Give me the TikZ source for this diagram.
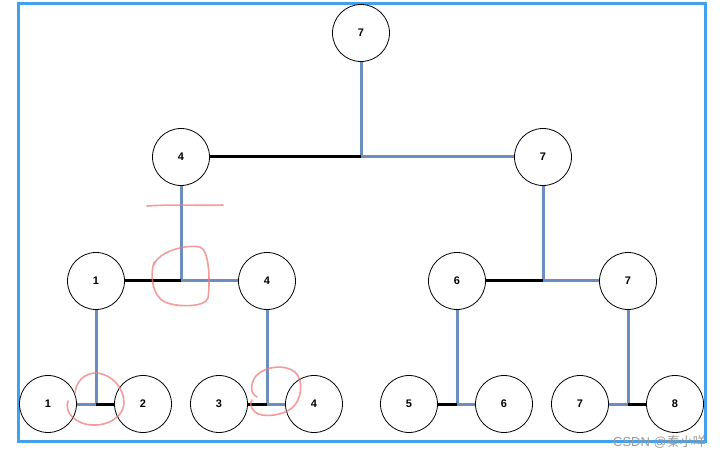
\documentclass[tikz,border=0pt]{standalone}
\usepackage{fontspec}
\setmainfont{Liberation Sans}
\newfontfamily\cjkfont{Noto Sans CJK SC}
\definecolor{frameblue}{HTML}{42A1EE}
\definecolor{edgeblue}{HTML}{6C8EBF}
\definecolor{markred}{HTML}{F07A7A}
\begin{document}
\begin{tikzpicture}[x=1pt,y=-1pt,
  circ/.style={circle,draw=black,line width=0.8pt,fill=white,minimum size=57pt,inner sep=0pt,font=\fontsize{11}{12}\selectfont\bfseries},
  blueline/.style={draw=edgeblue,line width=3pt},
  blackline/.style={draw=black,line width=3pt},
  redmark/.style={draw=markred,line width=1.6pt,opacity=0.75,line cap=round,line join=round},
  frame/.style={draw=frameblue,line width=3pt}]
\useasboundingbox (0,0) rectangle (720,454);
\draw[frame] (18,4) rectangle (705,441);
% nodes
\node[circ] (r) at (361,33) {7};
\node[circ] (a) at (181,157) {4};
\node[circ] (b) at (543,157) {7};
\node[circ] (c) at (96,281) {1};
\node[circ] (d) at (267,281) {4};
\node[circ] (e) at (457,281) {6};
\node[circ] (f) at (628,281) {7};
\node[circ] (g1) at (48,404) {1};
\node[circ] (g2) at (143,404) {2};
\node[circ] (g3) at (219,404) {3};
\node[circ] (g4) at (314,404) {4};
\node[circ] (g5) at (409,404) {5};
\node[circ] (g6) at (504,404) {6};
\node[circ] (g7) at (580,404) {7};
\node[circ] (g8) at (675,404) {8};
% junctions
\coordinate (j0) at (361,157);
\coordinate (j1) at (181,281);
\coordinate (j2) at (543,281);
\coordinate (j3) at (96,404);
\coordinate (j4) at (267,404);
\coordinate (j5) at (457,404);
\coordinate (j6) at (628,404);
% connectors
\draw[blueline] (r) -- (j0);
\draw[blackline] (a) -- (j0);
\draw[blueline] (j0) -- (b);
\draw[blueline] (a) -- (j1);
\draw[blackline] (c) -- (j1);
\draw[blueline] (j1) -- (d);
\draw[blueline] (b) -- (j2);
\draw[blackline] (e) -- (j2);
\draw[blueline] (j2) -- (f);
\draw[blueline] (c) -- (j3);
\draw[blueline] (g1) -- (j3);
\draw[blackline] (j3) -- (g2);
\draw[blueline] (d) -- (j4);
\draw[blackline] (g3) -- (j4);
\draw[blueline] (j4) -- (g4);
\draw[blueline] (e) -- (j5);
\draw[blackline] (g5) -- (j5);
\draw[blueline] (j5) -- (g6);
\draw[blueline] (f) -- (j6);
\draw[blueline] (g7) -- (j6);
\draw[blackline] (j6) -- (g8);
% red hand marks
\draw[redmark] (147,206) .. controls (175,204) and (200,206) .. (223,205);
\draw[redmark] (154,265) .. controls (158,252) and (185,244) .. (200,247)
  .. controls (210,250) and (210,285) .. (208,298)
  .. controls (205,308) and (175,307) .. (165,302)
  .. controls (152,296) and (150,275) .. (154,262);
\draw[redmark] (68,401) .. controls (64,412) and (75,424) .. (92,425)
  .. controls (110,426) and (124,415) .. (124,403)
  .. controls (124,388) and (112,374) .. (96,373)
  .. controls (84,373) and (76,382) .. (75,393);
\draw[redmark] (257,397) .. controls (250,393) and (250,384) .. (256,376)
  .. controls (265,366) and (285,364) .. (295,372)
  .. controls (304,380) and (302,400) .. (292,408)
  .. controls (282,416) and (262,418) .. (255,412)
  .. controls (250,408) and (250,402) .. (252,400);
% watermark
\node[anchor=south east,inner sep=0pt,text=gray!80,font=\fontsize{13}{14}\selectfont] (wm) at (706,448) {CSDN @{\cjkfont 秦小咩}};
\end{tikzpicture}
\end{document}
